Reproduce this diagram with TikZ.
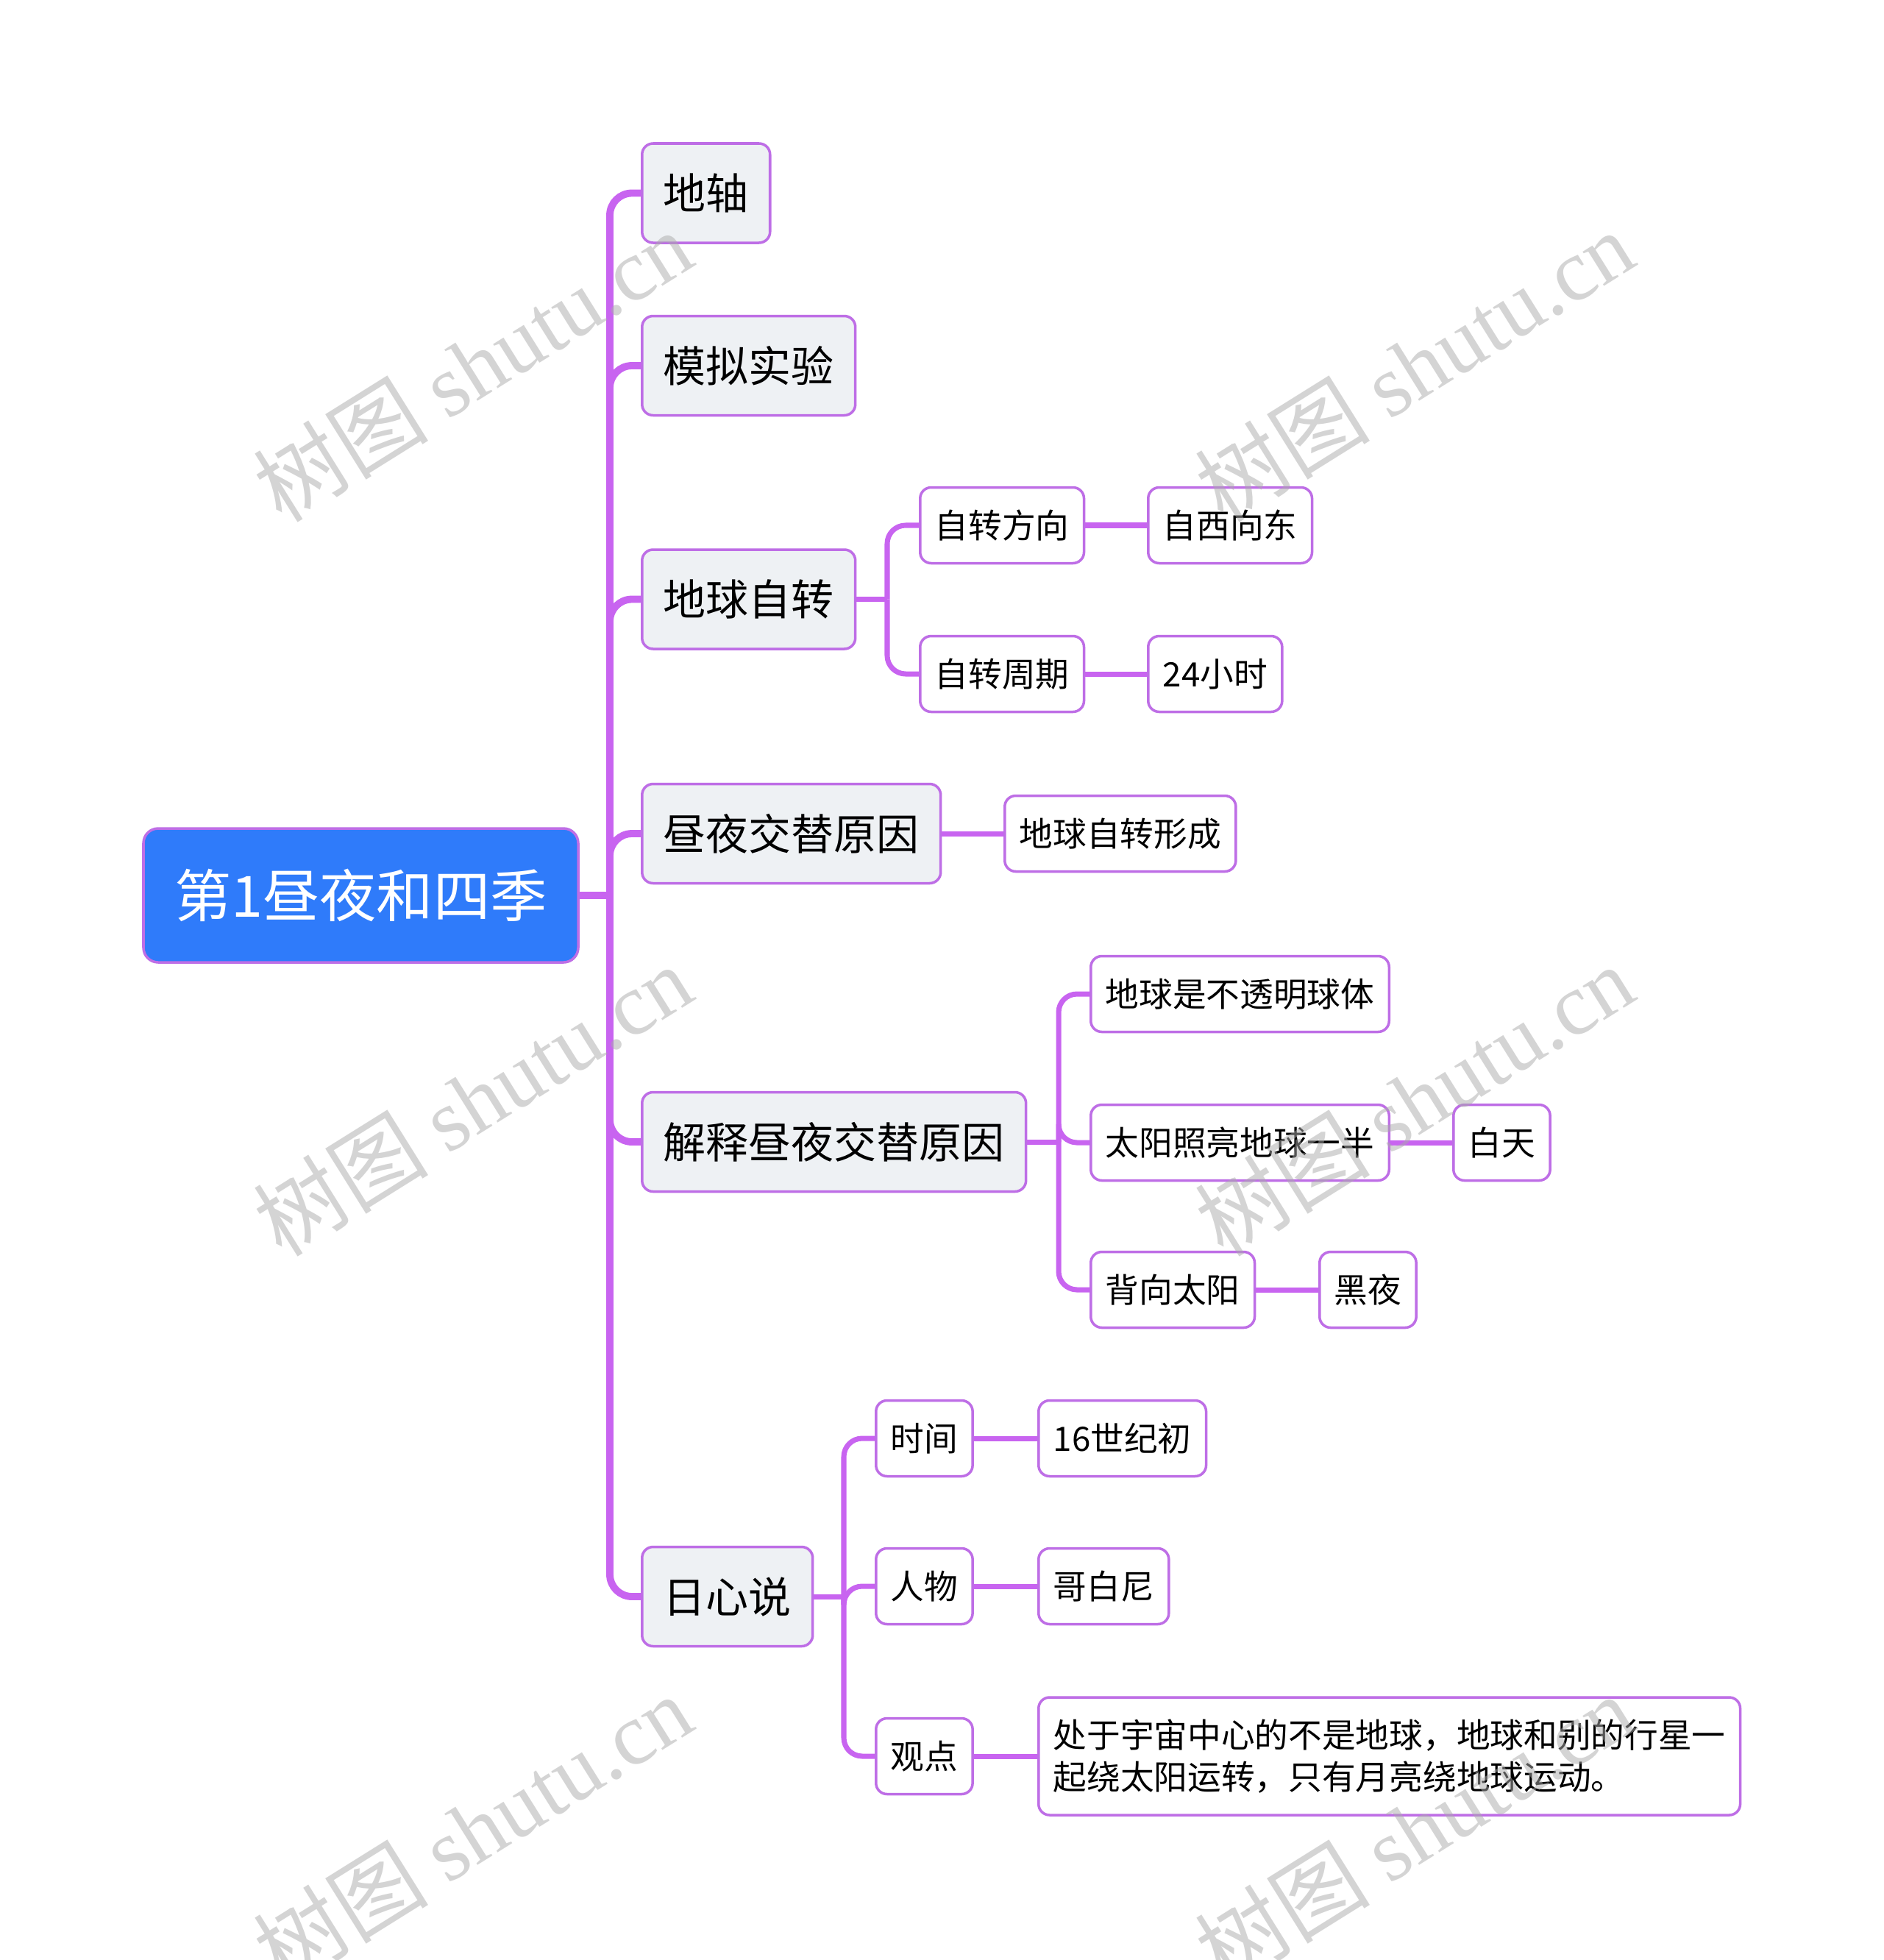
\documentclass[tikz,border=0pt]{standalone}
\usepackage{fontspec}
\setmainfont{Noto Sans CJK SC}
\newfontfamily\markfont{Liberation Serif}
\usepackage{tikz}
\usetikzlibrary{positioning}
\definecolor{RootBlue}{RGB}{47, 123, 250}
\definecolor{BranchPurple}{RGB}{200, 100, 240}
\definecolor{BoxPurple}{RGB}{190, 110, 230}
\definecolor{TopicGray}{RGB}{238, 241, 244}
\definecolor{MarkGray}{RGB}{170, 170, 170}

\begin{document}
\begin{tikzpicture}[
        rootbox/.style={
          rectangle,
          draw=BoxPurple,
          line width=1pt,
          rounded corners=0.2cm,
          fill=RootBlue,
          text=white,
          minimum width=5.91cm,
          minimum height=1.82cm,
          font=\fontsize{22}{26}\selectfont
        },
        topicbox/.style={
          rectangle,
          draw=BoxPurple,
          line width=1pt,
          rounded corners=0.15cm,
          fill=TopicGray,
          anchor=west,
          inner xsep=0.29cm,
          minimum height=1.35cm,
          font=\fontsize{16.5}{20}\selectfont
        },
        leafbox/.style={
          rectangle,
          draw=BoxPurple,
          line width=1pt,
          rounded corners=0.15cm,
          fill=white,
          anchor=west,
          inner xsep=0.2cm,
          minimum height=1.03cm,
          font=\fontsize{13}{16}\selectfont
        },
        trunkline/.style={BranchPurple, line width=2.8pt, rounded corners=0.3cm},
        branchline/.style={BranchPurple, line width=2pt, rounded corners=0.25cm},
        watermark/.style={text=MarkGray, opacity=0.5, rotate=32, font=\fontsize{34}{38}\selectfont}
      ]
        \fill[white] (0, 0) rectangle (25.6, -26.64);
        \useasboundingbox (0, 0) rectangle (25.6, -26.64);

        % root and main topics
        \node (root)    at (4.905, -12.17) [rootbox] {第1昼夜和四季};
        \node (axis)    at (8.71, -2.625)  [topicbox] {地轴};
        \node (model)   at (8.71, -4.97)   [topicbox] {模拟实验};
        \node (spin)    at (8.71, -8.145)  [topicbox] {地球自转};
        \node (cause)   at (8.71, -11.33)  [topicbox] {昼夜交替原因};
        \node (explain) at (8.71, -15.52)  [topicbox] {解释昼夜交替原因};
        \node (helio)   at (8.71, -21.70)  [topicbox] {日心说};

        % subtopics
        \node (dir)    at (12.49, -7.14)  [leafbox] {自转方向};
        \node (east)   at (15.59, -7.14)  [leafbox] {自西向东};
        \node (period) at (12.49, -9.16)  [leafbox] {自转周期};
        \node (hours)  at (15.59, -9.16)  [leafbox] {24小时};
        \node (form)   at (13.64, -11.33) [leafbox] {地球自转形成};
        \node (opaque) at (14.81, -13.51) [leafbox] {地球是不透明球体};
        \node (lit)    at (14.81, -15.53) [leafbox] {太阳照亮地球一半};
        \node (day)    at (19.74, -15.53) [leafbox] {白天};
        \node (back)   at (14.81, -17.53) [leafbox] {背向太阳};
        \node (night)  at (17.92, -17.53) [leafbox] {黑夜};
        \node (time)   at (11.89, -19.55) [leafbox] {时间};
        \node (age)    at (14.10, -19.55) [leafbox] {16世纪初};
        \node (person) at (11.89, -21.56) [leafbox] {人物};
        \node (copern) at (14.10, -21.56) [leafbox] {哥白尼};
        \node (view)   at (11.89, -23.87) [leafbox] {观点};
        \node (claim)  at (14.10, -23.87) [leafbox, align=left, minimum height=1.6cm,
          font=\fontsize{13}{16}\selectfont]
          {处于宇宙中心的不是地球，地球和别的行星一\\起绕太阳运转，只有月亮绕地球运动。};

        % junctions
        \coordinate (jroot)    at (8.29, -12.17);
        \coordinate (jspin)    at (12.06, -8.145);
        \coordinate (jexplain) at (14.39, -15.52);
        \coordinate (jhelio)   at (11.47, -21.70);

        \draw[trunkline] (root.east) -- (jroot);
        \foreach \t in {axis, model, spin, cause, explain, helio}
          \draw[trunkline] (jroot) |- (\t.west);

        \draw[branchline] (spin.east) -- (jspin);
        \foreach \t in {dir, period}
          \draw[branchline] (jspin) |- (\t.west);
        \draw[branchline] (explain.east) -- (jexplain);
        \foreach \t in {opaque, lit, back}
          \draw[branchline] (jexplain) |- (\t.west);
        \draw[branchline] (helio.east) -- (jhelio);
        \foreach \t in {time, person, view}
          \draw[branchline] (jhelio) |- (\t.west);

        \draw[branchline] (cause.east) -- (form.west);
        \draw[branchline] (dir.east) -- (east.west);
        \draw[branchline] (period.east) -- (hours.west);
        \draw[branchline] (lit.east) -- (day.west);
        \draw[branchline] (back.east) -- (night.west);
        \draw[branchline] (time.east) -- (age.west);
        \draw[branchline] (person.east) -- (copern.west);
        \draw[branchline] (view.east) -- (claim.west);

        % watermarks
        \foreach \y [count=\r] in {-4.97, -14.95, -24.87}
          \foreach \x [count=\c] in {6.42, 19.22}
            \node (mark\r\c) at (\x, \y) [watermark] {树图 {\markfont shutu.cn}};
      \end{tikzpicture}
\end{document}
